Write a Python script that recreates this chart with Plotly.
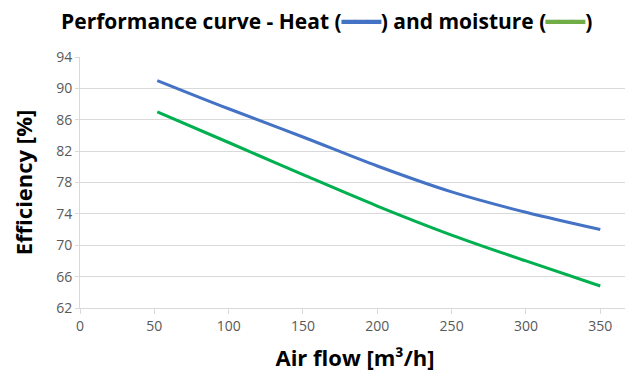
import plotly.graph_objects as go

airflow = [52, 100, 150, 200, 250, 300, 350]
heat_eff = [91.0, 87.4, 83.8, 80.1, 76.8, 74.2, 72.0]
moisture_eff = [87.0, 83.1, 79.0, 75.0, 71.3, 68.0, 64.8]

x_ticks = [0, 50, 100, 150, 200, 250, 300, 350]
y_ticks = [62, 66, 70, 74, 78, 82, 86, 90, 94]

BLUE = "#4472C4"
GREEN = "#00B050"
FONT = "Open Sans"

fig = go.Figure()
fig.add_trace(go.Scatter(x=airflow, y=heat_eff, mode="lines",
                         line=dict(color=BLUE, width=3, shape="spline", smoothing=1.0),
                         name="Heat", showlegend=False))
fig.add_trace(go.Scatter(x=airflow, y=moisture_eff, mode="lines",
                         line=dict(color=GREEN, width=3, shape="spline", smoothing=1.0),
                         name="Moisture", showlegend=False))

title_text = ("<b>Performance curve - Heat (<span style='color:%s'>━━━</span>) "
              "and moisture (<span style='color:#70AD47'>━━━</span>)</b>") % BLUE

fig.update_layout(
    width=625, height=368,
    margin=dict(l=72, r=3, t=49, b=68),
    paper_bgcolor="white", plot_bgcolor="white",
    font=dict(family=FONT, color="#595959"),
    title=dict(text=title_text, x=0.51, xanchor="center", y=0.962, yanchor="middle",
               font=dict(family=FONT, size=21, color="black")),
    xaxis=dict(range=[0, 370], tickvals=x_ticks, ticktext=[str(v) for v in x_ticks],
               showgrid=False, zeroline=False, automargin=False,
               showline=True, linecolor="#D9D9D9", linewidth=1,
               ticks="outside", ticklen=5, tickcolor="#D9D9D9",
               tickfont=dict(size=14, color="#595959"),
               title=dict(text="<b>Air flow [m³/h]</b>", standoff=16,
                          font=dict(size=22, color="black"))),
    yaxis=dict(range=[62, 94], tickvals=y_ticks, ticktext=[str(v) for v in y_ticks],
               showgrid=True, gridcolor="#D9D9D9", gridwidth=1, zeroline=False,
               automargin=False,
               showline=True, linecolor="#D9D9D9", linewidth=1,
               ticks="outside", ticklen=4, tickcolor="#D9D9D9",
               tickfont=dict(size=14, color="#595959"),
               title=dict(text="<b>Efficiency [%]</b>", standoff=26,
                          font=dict(size=22, color="black"))),
)

fig.write_html("out.html")
